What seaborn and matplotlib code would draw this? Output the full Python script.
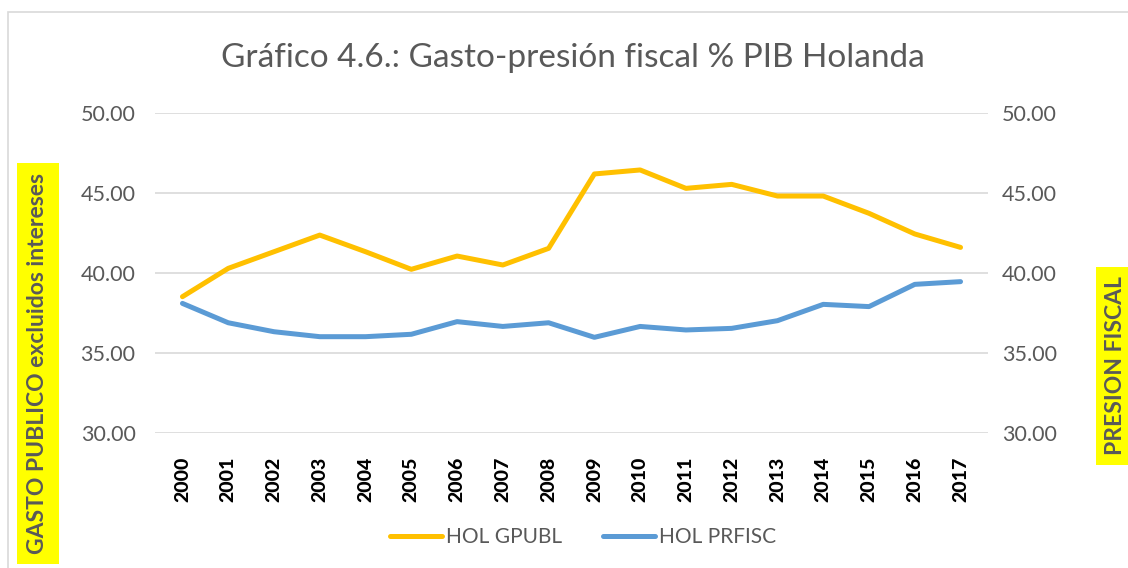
import matplotlib
matplotlib.use("Agg")
import matplotlib.pyplot as plt
import seaborn as sns
import pandas as pd
from matplotlib.patches import Rectangle
from matplotlib.lines import Line2D

years = [str(y) for y in range(2000, 2018)]
hol_gpubl = [38.52, 40.29, 41.33, 42.37, 41.33, 40.23, 41.06, 40.50, 41.54,
             46.19, 46.44, 45.29, 45.54, 44.81, 44.81, 43.73, 42.44, 41.60]
hol_prfisc = [38.10, 36.89, 36.33, 36.02, 36.02, 36.17, 36.96, 36.66, 36.89,
              35.98, 36.66, 36.44, 36.54, 37.02, 38.04, 37.90, 39.29, 39.46]
series_names = ["HOL GPUBL", "HOL PRFISC"]
yticks = [30, 35, 40, 45, 50]

sns.set_theme(style="white")
plt.rcParams['font.family'] = ['Lato', 'DejaVu Sans']

df = pd.DataFrame({
    "year": years * 2,
    "value": hol_gpubl + hol_prfisc,
    "serie": [series_names[0]] * len(years) + [series_names[1]] * len(years),
})

gray = "#595959"
fig = plt.figure(figsize=(11.28, 5.68), dpi=100)
ax = fig.add_axes([155/1128, 1-433/568, (988-155)/1128, (433-113)/568])

sns.lineplot(data=df, x="year", y="value", hue="serie",
             palette={series_names[0]: "#FFC000", series_names[1]: "#5B9BD5"},
             linewidth=3.6, ax=ax, legend=False, sort=False)
for ln in ax.lines:
    ln.set_solid_capstyle("round")
    ln.set_solid_joinstyle("round")

ax.set_xlim(-0.6, len(years) - 0.4)
ax.set_ylim(30, 50)
ax.set_yticks(yticks)
ax.set_yticklabels([f"{v:.2f}" for v in yticks], color=gray, fontsize=15.5)
ax.set_xticks(range(len(years)))
ax.set_xticklabels(years, rotation=90, fontsize=14, fontweight="black", color="black")
ax.set_xlabel("")
ax.set_ylabel("")
ax.grid(axis="y", color="#D9D9D9", linewidth=1.2)
ax.set_axisbelow(True)
for s in ["top", "left", "right", "bottom"]:
    ax.spines[s].set_visible(False)
ax.tick_params(axis="y", length=0, pad=14)
ax.tick_params(axis="x", length=0, pad=17)

ax2 = ax.twinx()
ax2.set_ylim(30, 50)
ax2.set_yticks(yticks)
ax2.set_yticklabels([f"{v:.2f}" for v in yticks], color=gray, fontsize=15.5)
ax2.tick_params(axis="y", length=0, pad=10)
ax2.grid(False)
for s in ["top", "left", "right", "bottom"]:
    ax2.spines[s].set_visible(False)

# chart border
fig.add_artist(Rectangle((8/1128, -0.1), 1.2, 1 - 12/568 + 0.1, transform=fig.transFigure,
                         fill=False, edgecolor="#D9D9D9", linewidth=1.2))

fig.text(573/1128, 1-58/568, "Gráfico 4.6.: Gasto-presión fiscal % PIB Holanda",
         ha="center", va="center", fontsize=24, color=gray)

fig.text(38/1128, 1-173/568, "GASTO PUBLICO excluidos intereses", rotation=90,
         ha="center", va="top", fontsize=16.5, fontweight="bold", color=gray,
         bbox=dict(boxstyle="square,pad=0.45", facecolor="#FFFF00", edgecolor="none"))
fig.text(1116/1128, 1-366/568, "PRESION FISCAL", rotation=90,
         ha="center", va="center", fontsize=16.5, fontweight="bold", color=gray,
         bbox=dict(boxstyle="square,pad=0.4", facecolor="#FFFF00", edgecolor="none"))

handles = [Line2D([0], [0], color="#FFC000", linewidth=3.6, solid_capstyle="round"),
           Line2D([0], [0], color="#5B9BD5", linewidth=3.6, solid_capstyle="round")]
leg = fig.legend(handles, series_names, loc="center", bbox_to_anchor=(583/1128, 1-537/568),
                 ncol=2, frameon=False, fontsize=15, handlelength=2.5, handletextpad=0.15,
                 columnspacing=2.0)
for t in leg.get_texts():
    t.set_color(gray)

fig.savefig("out.png", dpi=100)
